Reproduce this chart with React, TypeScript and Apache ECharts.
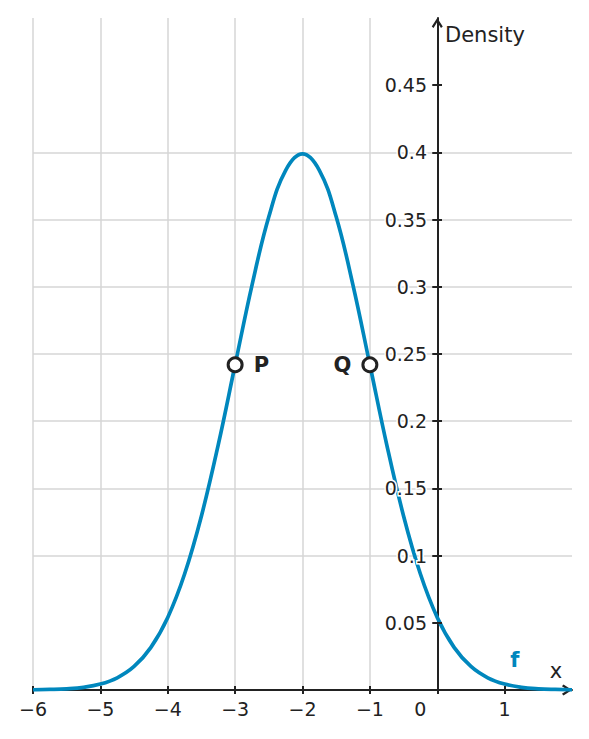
import React, { useEffect, useRef } from "react";
import * as echarts from "echarts";

// Values
const xValues = [
  -6, -5.75, -5.5, -5.25, -5, -4.75, -4.5, -4.25, -4, -3.75, -3.5, -3.25, -3,
  -2.75, -2.5, -2.25, -2, -1.75, -1.5, -1.25, -1, -0.75, -0.5, -0.25, 0, 0.25,
  0.5, 0.75, 1, 1.25, 1.5, 1.75, 2,
];
const density = [
  0.0001, 0.0004, 0.0009, 0.002, 0.0044, 0.0091, 0.0175, 0.0317, 0.054, 0.0863,
  0.1295, 0.1826, 0.242, 0.3011, 0.3521, 0.3867, 0.3989, 0.3867, 0.3521, 0.3011,
  0.242, 0.1826, 0.1295, 0.0863, 0.054, 0.0317, 0.0175, 0.0091, 0.0044, 0.002,
  0.0009, 0.0004, 0.0001,
];
const xTicks = [-6, -5, -4, -3, -2, -1, 0, 1];
const xLabels = [-6, -5, -4, -3, -2, -1, 0, 1];
const yTicks = [0.05, 0.1, 0.15, 0.2, 0.25, 0.3, 0.35, 0.4, 0.45];
const pointNames = ["P", "Q"];
const pointX = [-3, -1];
const pointY = [0.242, 0.242];
const curveName = "f";
const curveLabelPos = [1.15, 0.022];

const FONT = '"DejaVu Sans", sans-serif';
const INK = "#222222";
const BLUE = "#0087bd";
const GRID = "#d6d6d6";
const CHEVRON = "path://M50 0 L100 78 L84 92 L50 38 L16 92 L0 78 Z";

export default function App() {
  const ref = useRef<HTMLDivElement>(null);
  useEffect(() => {
    if (!ref.current) return;
    const chart = echarts.init(ref.current, null, { renderer: "svg" });
    const xBase = {
      type: "value",
      min: -6,
      max: 2,
      interval: 1,
      position: "bottom",
    };
    const yBase = {
      type: "value",
      min: 0,
      max: 0.5,
      interval: 0.05,
      position: "left",
    };
    chart.setOption({
      animation: false,
      backgroundColor: "#ffffff",
      grid: {
        left: 33,
        right: 17,
        top: 18,
        bottom: 49,
        containLabel: false,
        outerBoundsMode: "none",
      },
      xAxis: [
        {
          ...xBase,
          z: 0,
          axisLine: {
            show: true,
            onZero: true,
            onZeroAxisIndex: 0,
            symbol: ["none", CHEVRON],
            symbolSize: [11, 11],
            symbolOffset: [0, -5],
            lineStyle: { color: INK, width: 2 },
          },
          axisTick: {
            show: true,
            customValues: xTicks,
            length: 4,
            lineStyle: { color: INK, width: 2 },
          },
          axisLabel: {
            show: true,
            customValues: xLabels,
            margin: 9,
            color: INK,
            fontSize: 19,
            fontFamily: FONT,
            formatter: (v: number) =>
              v === 0 ? "{z|0}" : String(v).replace("-", "\u2212"),
            rich: {
              z: {
                padding: [0, 34, 0, 0],
                color: INK,
                fontSize: 19,
                fontFamily: FONT,
              },
            },
          },
          splitLine: {
            show: true,
            showMinLine: true,
            showMaxLine: false,
            lineStyle: { color: GRID, width: 1.5 },
          },
        },
        {
          ...xBase,
          z: 0,
          axisLine: { show: false, onZero: false },
          axisTick: {
            show: true,
            inside: true,
            customValues: xTicks,
            length: 4,
            lineStyle: { color: INK, width: 2 },
          },
          axisLabel: { show: false },
          splitLine: { show: false },
        },
      ],
      yAxis: [
        {
          ...yBase,
          z: 0,
          axisLine: {
            show: true,
            onZero: true,
            onZeroAxisIndex: 0,
            symbol: ["none", CHEVRON],
            symbolSize: [11, 11],
            symbolOffset: [0, -5],
            lineStyle: { color: INK, width: 2 },
          },
          axisTick: {
            show: true,
            customValues: yTicks,
            length: 5,
            lineStyle: { color: INK, width: 2 },
          },
          axisLabel: { show: false },
          splitLine: {
            show: true,
            showMinLine: false,
            showMaxLine: false,
            lineStyle: { color: GRID, width: 1.5 },
          },
        },
        {
          ...yBase,
          z: 3,
          offset: -404,
          axisLine: { show: false, onZero: false },
          axisTick: {
            show: true,
            inside: true,
            customValues: yTicks,
            length: 5,
            lineStyle: { color: INK, width: 2 },
          },
          axisLabel: {
            show: true,
            customValues: yTicks,
            margin: 10,
            color: INK,
            fontSize: 19,
            fontFamily: FONT,
            textBorderColor: "#ffffff",
            textBorderWidth: 3,
          },
          splitLine: { show: false },
        },
      ],
      graphic: [
        {
          type: "text",
          x: 445,
          y: 35,
          z: 10,
          style: {
            text: "Density",
            fill: INK,
            fontSize: 21,
            fontFamily: FONT,
            align: "left",
            verticalAlign: "middle",
          },
        },
        {
          type: "text",
          x: 556,
          y: 671,
          z: 10,
          style: {
            text: "x",
            fill: INK,
            fontSize: 21,
            fontFamily: FONT,
            align: "center",
            verticalAlign: "middle",
          },
        },
      ],
      series: [
        {
          type: "line",
          xAxisIndex: 0,
          yAxisIndex: 0,
          z: 2,
          data: xValues.map((x, i) => [x, density[i]]),
          smooth: 0.4,
          showSymbol: false,
          symbol: "none",
          lineStyle: { color: BLUE, width: 3.7 },
          silent: true,
        },
        {
          type: "scatter",
          xAxisIndex: 0,
          yAxisIndex: 0,
          z: 5,
          symbol: "circle",
          symbolSize: 14,
          itemStyle: {
            color: "#ffffff",
            borderColor: INK,
            borderWidth: 3,
            opacity: 1,
          },
          label: {
            show: true,
            fontSize: 21,
            fontWeight: "bold",
            fontFamily: FONT,
            color: INK,
            distance: 10,
            formatter: (p: any) => p.name,
          },
          data: pointNames.map((n, i) => ({
            name: n,
            value: [pointX[i], pointY[i]],
            label: { position: i === 0 ? "right" : "left" },
          })),
        },
        {
          type: "scatter",
          xAxisIndex: 0,
          yAxisIndex: 0,
          z: 5,
          symbolSize: 0,
          itemStyle: { opacity: 1 },
          label: {
            show: true,
            position: "inside",
            fontSize: 21,
            fontWeight: "bold",
            fontFamily: FONT,
            color: BLUE,
            formatter: (p: any) => p.name,
          },
          data: [{ name: curveName, value: curveLabelPos }],
        },
      ],
    });
    return () => chart.dispose();
  }, []);
  return (
    <div
      ref={ref}
      style={{ position: "absolute", left: 0, top: 0, width: 589, height: 739 }}
    />
  );
}
